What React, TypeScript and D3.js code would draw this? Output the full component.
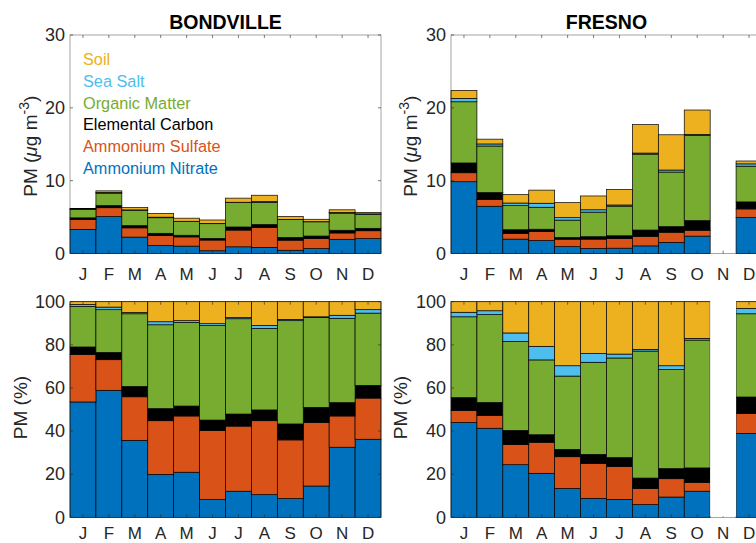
import React from 'react';
import * as d3 from 'd3';

const months = ['J', 'F', 'M', 'A', 'M', 'J', 'J', 'A', 'S', 'O', 'N', 'D'];
const componentNames = ['Ammonium Nitrate', 'Ammonium Sulfate', 'Elemental Carbon', 'Organic Matter', 'Sea Salt', 'Soil'];
const componentColors = ['#0072BD', '#D95319', '#000000', '#77AC30', '#4DBEEE', '#EDB120'];

// Bondville: monthly total PM (ug m-3) and percent share of each component
const bondvilleTotal = [6.2, 8.6, 6.3, 5.5, 4.85, 4.6, 7.6, 8.0, 5.1, 4.7, 6.0, 5.65];
const bondvilleNitrate = [53.5, 58.9, 35.7, 19.9, 20.9, 8.2, 12.1, 10.5, 8.7, 14.5, 32.5, 36.2];
const bondvilleSulfate = [22.0, 14.2, 20.2, 24.9, 26.1, 32.0, 30.2, 34.3, 27.2, 29.5, 14.5, 19.1];
const bondvilleEC = [3.5, 3.4, 4.8, 5.6, 4.6, 4.9, 5.6, 5.0, 7.4, 7.0, 6.2, 5.9];
const bondvilleOM = [18.8, 19.8, 33.7, 38.9, 38.8, 43.9, 44.2, 37.8, 47.9, 41.6, 39.1, 33.5];
const bondvilleSeaSalt = [0.9, 1.2, 0.6, 1.4, 0.8, 0.8, 0.5, 1.4, 0.6, 0.4, 1.4, 1.6];
const bondvilleSoil = [1.3, 2.5, 5.0, 9.3, 8.8, 10.2, 7.4, 11.0, 8.2, 7.0, 6.3, 3.7];

// Fresno: November has no data
const fresnoTotal = [22.4, 15.7, 8.1, 8.7, 7.0, 7.9, 8.8, 17.7, 16.3, 19.7, null, 12.7];
const fresnoNitrate = [44.0, 41.3, 24.4, 20.4, 13.4, 8.8, 8.3, 5.9, 9.4, 12.1, null, 38.9];
const fresnoSulfate = [5.5, 6.0, 9.4, 14.4, 14.7, 16.2, 15.2, 7.4, 8.5, 4.1, null, 9.3];
const fresnoEC = [6.0, 6.0, 6.5, 3.5, 3.4, 4.2, 4.2, 4.9, 4.7, 6.7, null, 7.6];
const fresnoOM = [37.5, 40.7, 41.3, 34.7, 34.0, 42.7, 46.2, 58.9, 46.0, 59.3, null, 38.6];
const fresnoSeaSalt = [2.1, 1.8, 3.9, 6.3, 4.8, 4.1, 1.8, 0.8, 1.7, 0.8, null, 2.5];
const fresnoSoil = [4.9, 4.2, 14.5, 20.7, 29.7, 24.0, 24.3, 22.1, 29.7, 17.0, null, 3.1];

const absTicks = [0, 10, 20, 30];
const pctTicks = [0, 20, 40, 60, 80, 100];

const FONT = 'Liberation Sans, Arial, Helvetica, sans-serif';
const AX = '#262626';

type Site = { total: (number | null)[]; comps: (number | null)[][] };
const bondville: Site = {
  total: bondvilleTotal,
  comps: [bondvilleNitrate, bondvilleSulfate, bondvilleEC, bondvilleOM, bondvilleSeaSalt, bondvilleSoil],
};
const fresno: Site = {
  total: fresnoTotal,
  comps: [fresnoNitrate, fresnoSulfate, fresnoEC, fresnoOM, fresnoSeaSalt, fresnoSoil],
};

function Panel(props: {
  site: Site; mode: 'abs' | 'pct'; left: number; width: number; top: number; bottom: number;
  title?: string; legend?: boolean; labelX: number;
}) {
  const { site, mode, left, width, top, bottom, title, legend, labelX } = props;
  const right = left + width;
  const idx = months.map((_, i) => i);
  const x = d3.scaleBand<number>().domain(idx).range([left, right]).padding(0);
  const yMax = mode === 'abs' ? 30 : 100;
  const ticks = mode === 'abs' ? absTicks : pctTicks;
  const y = d3.scaleLinear().domain([0, yMax]).range([bottom, top]);

  const rows = idx.map((i) => {
    const row: any = { i, missing: site.total[i] == null };
    site.comps.forEach((c, k) => {
      const p = c[i];
      const t = site.total[i];
      row['c' + k] = p == null || t == null ? 0 : mode === 'abs' ? (p / 100) * t : p;
    });
    return row;
  });
  const keys = site.comps.map((_, k) => 'c' + k);
  const series = d3.stack<any>().keys(keys)(rows);

  const bw = x.bandwidth();
  return (
    <g>
      {series.map((s, k) => (
        <g key={k}>
          {s.map((d, i) => {
            if (rows[i].missing) return null;
            const y0 = y(d[0]);
            const y1 = y(d[1]);
            return (
              <rect key={i} x={x(i)} y={y1} width={bw} height={Math.max(0, y0 - y1)}
                fill={componentColors[k]} stroke="#000" strokeWidth={0.7} />
            );
          })}
        </g>
      ))}
      <rect x={left} y={top} width={width} height={bottom - top} fill="none" stroke={AX} strokeWidth={0.6} strokeOpacity={0.7} />
      {idx.map((i) => {
        const cx = (x(i) as number) + bw / 2;
        return (
          <g key={i}>
            <line x1={cx} x2={cx} y1={bottom} y2={bottom - 3} stroke={AX} strokeWidth={0.6} />
            <line x1={cx} x2={cx} y1={top} y2={top + 3} stroke={AX} strokeWidth={0.6} />
            <text x={cx} y={mode === 'abs' ? 279.5 : 539.3} textAnchor="middle" fontSize={17} fill={AX} fontFamily={FONT}>{months[i]}</text>
          </g>
        );
      })}
      {mode === 'pct' && rows.map((r, i) => r.missing ? (
        <rect key={'m' + i} x={x(i)} y={top - 1} width={bw} height={bottom - top} fill="#fff" />
      ) : null)}
      {ticks.map((t) => (
        <g key={t}>
          <line x1={left} x2={left + 3} y1={y(t)} y2={y(t)} stroke={AX} strokeWidth={0.6} />
          <line x1={right} x2={right - 3} y1={y(t)} y2={y(t)} stroke={AX} strokeWidth={0.6} />
          <text x={left - 5} y={y(t) + 6.3} textAnchor="end" fontSize={18} fill={AX} fontFamily={FONT}>{t}</text>
        </g>
      ))}
      {title && (
        <text x={(left + right) / 2} y={28.5} textAnchor="middle" fontSize={19.5} fontWeight="bold" fill="#000" fontFamily={FONT}>{title}</text>
      )}
      {mode === 'abs' ? (
        <text transform={`translate(${labelX},${(top + bottom) / 2 + 2}) rotate(-90)`} textAnchor="middle" fontSize={19} fill={AX} fontFamily={FONT} dy={6.5}>
          PM (<tspan fontStyle="italic">μ</tspan>g m<tspan dy={-8} fontSize={14}>-3</tspan><tspan dy={8}>)</tspan>
        </text>
      ) : (
        <text transform={`translate(${labelX},${(top + bottom) / 2 - 2}) rotate(-90)`} textAnchor="middle" fontSize={19} fill={AX} fontFamily={FONT} dy={6.5}>
          PM (%)
        </text>
      )}
      {legend && componentNames.slice().reverse().map((name, j) => {
        const k = componentNames.length - 1 - j;
        return (
          <text key={name} x={83} y={59.3 + j * 21.7 + 5.8} fontSize={16.3} fill={componentColors[k]} fontFamily={FONT}>{name}</text>
        );
      })}
    </g>
  );
}

export default function App() {
  const W = 756, H = 543;
  const pw = 311;
  return (
    <svg width={W} height={H} style={{ position: 'absolute', left: 0, top: 0, background: '#fff' }}>
      <rect x={0} y={0} width={W} height={H} fill="#fff" />
      <Panel site={bondville} mode="abs" left={70} width={pw} top={35} bottom={253.5} title="BONDVILLE" legend labelX={30} />
      <Panel site={fresno} mode="abs" left={451} width={pw} top={35} bottom={253.5} title="FRESNO" labelX={410} />
      <Panel site={bondville} mode="pct" left={70} width={pw} top={301.7} bottom={517.3} labelX={20} />
      <Panel site={fresno} mode="pct" left={451} width={pw} top={301.7} bottom={517.3} labelX={400} />
    </svg>
  );
}
